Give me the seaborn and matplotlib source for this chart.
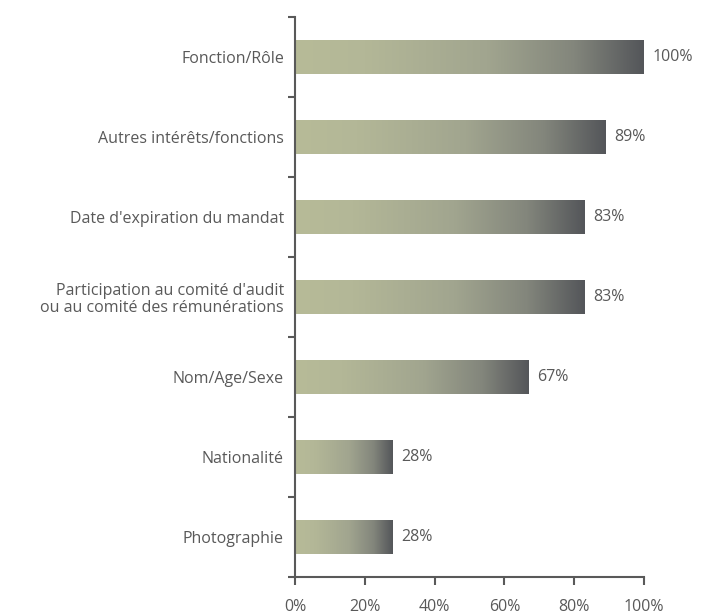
import numpy as np
import pandas as pd
import matplotlib
matplotlib.use("Agg")
import matplotlib.pyplot as plt
import seaborn as sns
from matplotlib.colors import LinearSegmentedColormap
from matplotlib.ticker import FixedLocator

categories = [
    "Fonction/Rôle",
    "Autres intérêts/fonctions",
    "Date d'expiration du mandat",
    "Participation au comité d'audit\nou au comité des rémunérations",
    "Nom/Age/Sexe",
    "Nationalité",
    "Photographie",
]
values = [100, 89, 83, 83, 67, 28, 28]
value_labels = ["100%", "89%", "83%", "83%", "67%", "28%", "28%"]
xticks = [0, 20, 40, 60, 80, 100]
xtick_labels = ["0%", "20%", "40%", "60%", "80%", "100%"]

sns.set_style("white")
plt.rcParams["font.family"] = ["Open Sans", "DejaVu Sans"]
text_color = "#595959"
fs = 11.5

df = pd.DataFrame({"cat": categories, "val": values})

fig = plt.figure(figsize=(7.03, 6.14), dpi=100)
ax = fig.add_axes([295 / 703, 1 - 577 / 614, (644 - 295) / 703, (577 - 17) / 614])

sns.barplot(data=df, x="val", y="cat", orient="h", ax=ax, width=0.42,
            color="#b5b999", saturation=1, edgecolor="none")

cmap = LinearSegmentedColormap.from_list(
    "grad",
    [(0.0, "#b7bb98"), (0.2, "#b3b797"), (0.55, "#a1a58f"),
     (0.8, "#83867c"), (1.0, "#54565a")])
grad = np.linspace(0, 1, 256).reshape(1, -1)

for p in ax.patches:
    x0, y0 = p.get_x(), p.get_y()
    w, h = p.get_width(), p.get_height()
    im = ax.imshow(grad, cmap=cmap, aspect="auto",
                   extent=[x0, x0 + w, y0 + h, y0], zorder=p.get_zorder() + 0.1,
                   interpolation="bicubic")
    im.set_clip_path(p)

ax.set_xlim(0, 100)
ax.set_ylim(len(categories) - 0.5, -0.5)

for i, (v, lab) in enumerate(zip(values, value_labels)):
    ax.annotate(lab, (v, i), xytext=(6, 0), textcoords="offset points",
                va="center", ha="left", fontsize=fs, color=text_color)

ax.set_xticks(xticks)
ax.set_xticklabels(xtick_labels, fontsize=fs, color=text_color)
ax.tick_params(axis="x", bottom=True, direction="out", length=6, width=1.5,
               color=text_color, pad=10)
ax.set_yticks(range(len(categories)))
ax.set_yticklabels(categories, fontsize=fs, color=text_color, linespacing=1.1)
ax.tick_params(axis="y", which="major", left=True, length=0, pad=8)
ax.yaxis.set_minor_locator(FixedLocator(np.arange(-0.5, len(categories), 1.0)))
ax.tick_params(axis="y", which="minor", left=True, direction="out", length=5,
               width=1.5, color=text_color)

ax.set_xlabel("")
ax.set_ylabel("")
for s in ["top", "right"]:
    ax.spines[s].set_visible(False)
for s in ["left", "bottom"]:
    ax.spines[s].set_color(text_color)
    ax.spines[s].set_linewidth(1.5)

fig.savefig("out.png", dpi=100)
